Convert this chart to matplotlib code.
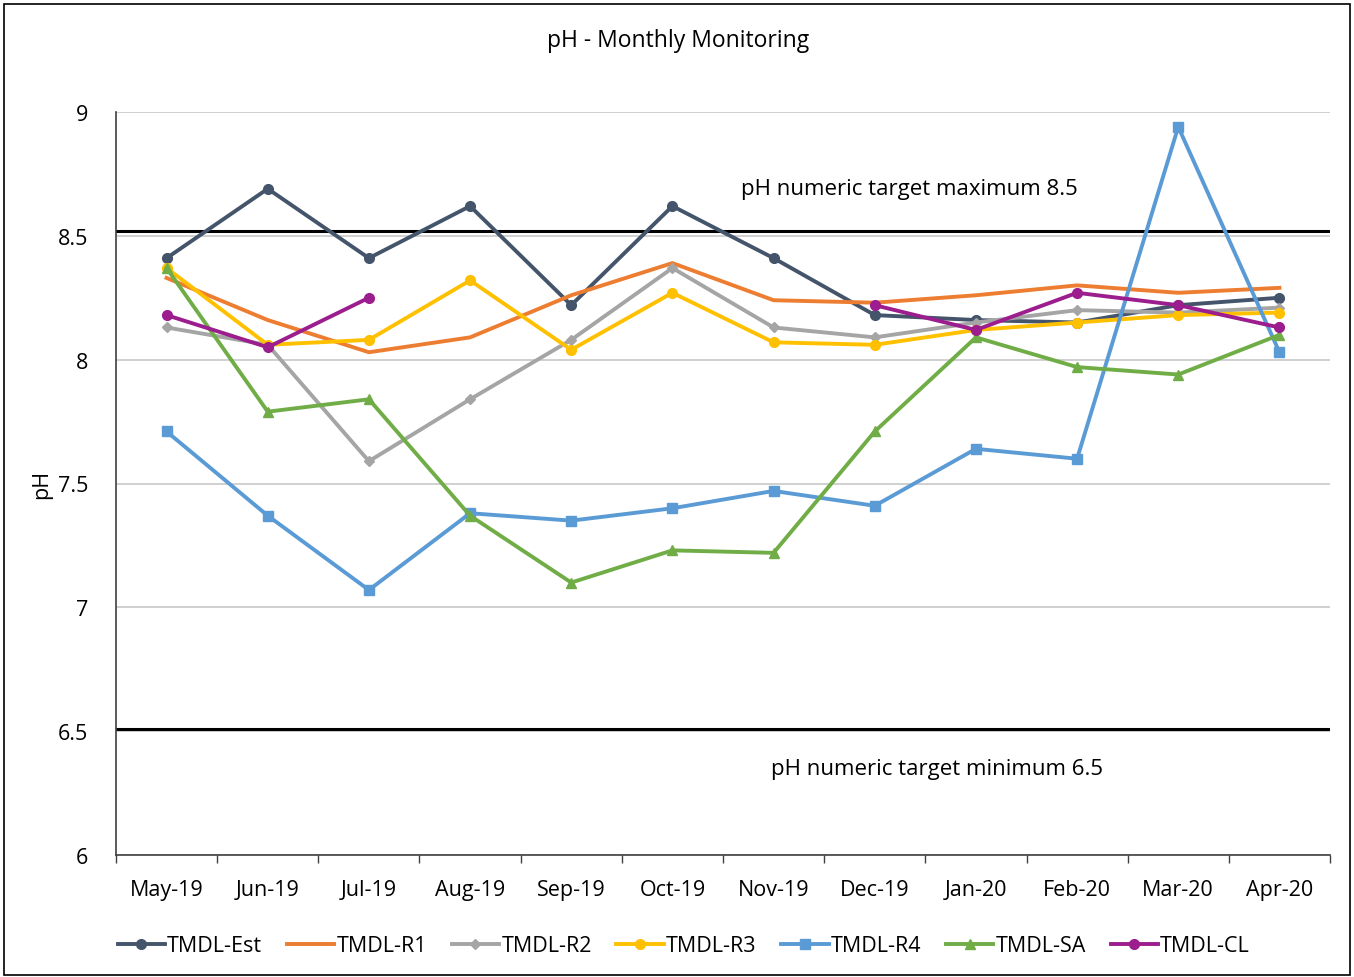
import numpy as np
import matplotlib
matplotlib.use("Agg")
import matplotlib.pyplot as plt
from matplotlib.patches import Rectangle

plt.rcParams['font.family'] = ['Open Sans', 'DejaVu Sans']

months = ["May-19", "Jun-19", "Jul-19", "Aug-19", "Sep-19", "Oct-19",
          "Nov-19", "Dec-19", "Jan-20", "Feb-20", "Mar-20", "Apr-20"]

est = [8.41, 8.69, 8.41, 8.62, 8.22, 8.62, 8.41, 8.18, 8.16, 8.15, 8.22, 8.25]
r1 = [8.33, 8.16, 8.03, 8.09, 8.26, 8.39, 8.24, 8.23, 8.26, 8.30, 8.27, 8.29]
r2 = [8.13, 8.06, 7.59, 7.84, 8.08, 8.37, 8.13, 8.09, 8.15, 8.20, 8.19, 8.21]
r3 = [8.37, 8.06, 8.08, 8.32, 8.04, 8.27, 8.07, 8.06, 8.12, 8.15, 8.18, 8.19]
r4 = [7.71, 7.37, 7.07, 7.38, 7.35, 7.40, 7.47, 7.41, 7.64, 7.60, 8.94, 8.03]
sa = [8.37, 7.79, 7.84, 7.37, 7.10, 7.23, 7.22, 7.71, 8.09, 7.97, 7.94, 8.10]
cl = [8.18, 8.05, 8.25, np.nan, np.nan, np.nan, np.nan, 8.22, 8.12, 8.27, 8.22, 8.13]

target_max = 8.52
target_min = 6.51

series = [
    ("TMDL-Est", est, "#44546A", "o"),
    ("TMDL-R1", r1, "#ED7D31", None),
    ("TMDL-R2", r2, "#A5A5A5", "D"),
    ("TMDL-R3", r3, "#FFC000", "o"),
    ("TMDL-R4", r4, "#5B9BD5", "s"),
    ("TMDL-SA", sa, "#70AD47", "^"),
    ("TMDL-CL", cl, "#9C1D8E", "o"),
]

fig = plt.figure(figsize=(13.54, 9.78), dpi=100)
ax = fig.add_axes([116 / 1354, 1 - 856 / 978, (1330 - 116) / 1354, (856 - 113) / 978])

x = np.arange(len(months))
for name, vals, color, mk in series:
    ms = 5.5 if mk == "D" else 7
    ax.plot(x, vals, color=color, lw=2.8, marker=mk, ms=ms, label=name, zorder=3)

ax.axhline(target_max, color="black", lw=2.2, zorder=2)
ax.axhline(target_min, color="black", lw=2.2, zorder=2)

ax.text(7.34, 8.69, "pH numeric target maximum 8.5", ha="center", va="center", fontsize=16)
ax.text(7.62, 6.35, "pH numeric target minimum 6.5", ha="center", va="center", fontsize=16)

ax.set_xlim(-0.5, 11.5)
ax.set_ylim(6, 9)
ax.set_yticks(np.arange(6, 9.01, 0.5))
ax.set_yticklabels(["6", "6.5", "7", "7.5", "8", "8.5", "9"])
ax.set_xticks(x)
ax.set_xticklabels(months)
ax.set_xticks(np.arange(-0.5, 12, 1), minor=True)
ax.tick_params(axis="x", which="major", length=0, pad=17, labelsize=15.5)
ax.tick_params(axis="x", which="minor", length=6, width=1, color="#404040")
ax.tick_params(axis="y", length=0, pad=20, labelsize=15.5)
ax.grid(axis="y", color="#C8C8C8", lw=1.2, zorder=0)
for s in ["top", "right"]:
    ax.spines[s].set_visible(False)
ax.spines["left"].set_color("#404040")
ax.spines["bottom"].set_color("#404040")
ax.spines["left"].set_linewidth(1.2)
ax.spines["bottom"].set_linewidth(1.2)

ax.set_ylabel("pH", fontsize=15.5, labelpad=4)
fig.text(678 / 1354, 1 - 41 / 978, "pH - Monthly Monitoring", ha="center", va="center", fontsize=16.5)

fig.legend(loc="center", bbox_to_anchor=(0.505, 1 - 947 / 978), ncol=7, frameon=False,
           fontsize=15.5, handlelength=2.2, handletextpad=0.1, columnspacing=1.15)

fig.patches.append(Rectangle((0.003, 0.002), 0.994, 0.993, transform=fig.transFigure,
                             fill=False, edgecolor="black", lw=1.2))

fig.savefig("out.png", dpi=100)
